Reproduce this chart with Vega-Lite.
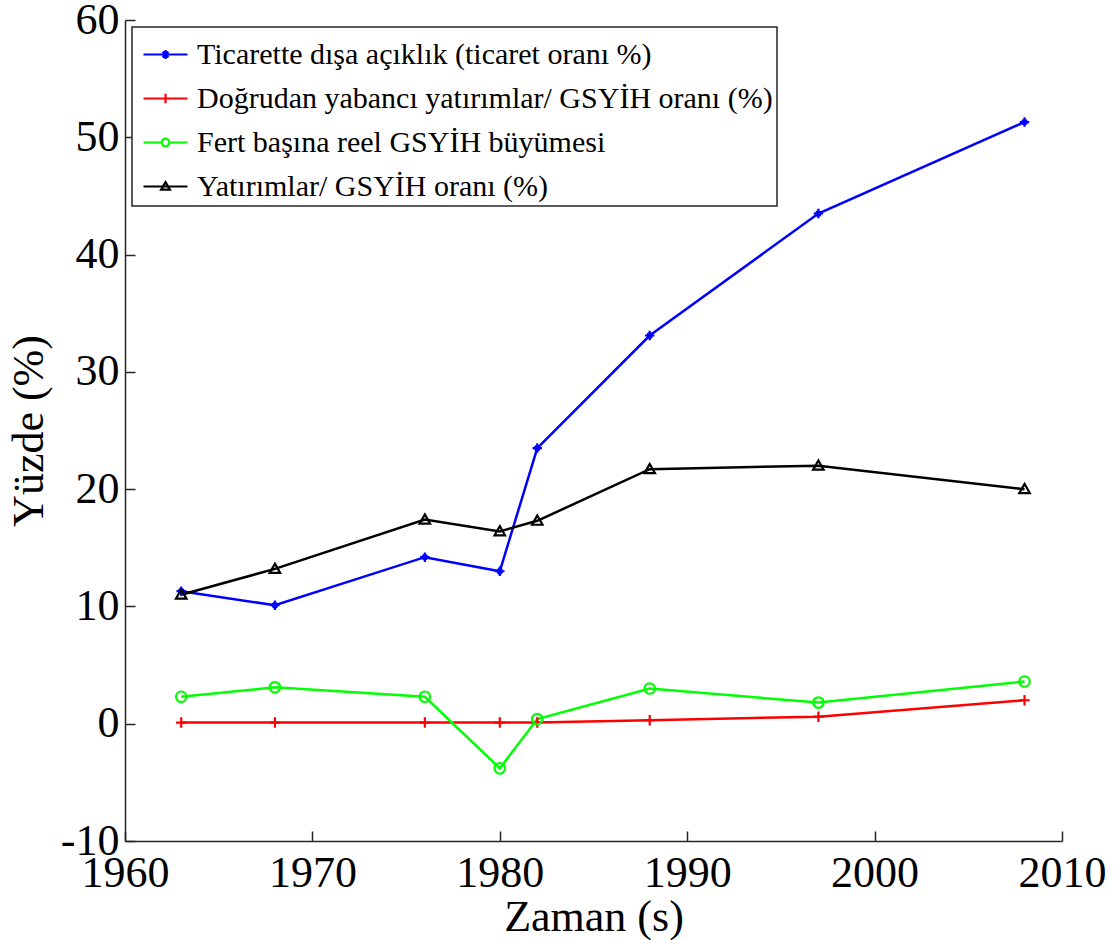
{
  "$schema": "https://vega.github.io/schema/vega-lite/v6.json",
  "autosize": {"type": "none"},
  "padding": {"left": 125, "top": 20, "right": 56, "bottom": 99},
  "width": 937,
  "height": 821,
  "background": "white",
  "config": {
    "view": {"stroke": null},
    "font": "Liberation Serif",
    "axis": {
      "labelFont": "Liberation Serif",
      "titleFont": "Liberation Serif",
      "labelFontSize": 44,
      "titleFontSize": 44,
      "titleFontWeight": "normal",
      "labelColor": "black",
      "titleColor": "black",
      "domainColor": "#262626",
      "domainWidth": 1.5,
      "tickColor": "#262626",
      "tickWidth": 1.5,
      "tickSize": -10,
      "grid": false,
      "labelOverlap": false,
      "labelFlush": false,
      "labelBound": false
    },
    "legend": {
      "strokeColor": "#262626",
      "strokeWidth": 1.5,
      "fillColor": "white",
      "labelFont": "Liberation Serif",
      "labelFontSize": 30,
      "labelColor": "black",
      "labelLimit": 0,
      "labelOffset": 8,
      "symbolSize": 1936,
      "symbolStrokeWidth": 2.2,
      "symbolOpacity": 1,
      "rowPadding": 5,
      "padding": 4,
      "symbolOffset": 6,
      "orient": "top-left",
      "offset": 7
    }
  },
  "data": {
    "values": [
      {"year": 1963, "series": "Ticarette dışa açıklık (ticaret oranı %)", "value": 11.3},
      {"year": 1968, "series": "Ticarette dışa açıklık (ticaret oranı %)", "value": 10.1},
      {"year": 1976, "series": "Ticarette dışa açıklık (ticaret oranı %)", "value": 14.2},
      {"year": 1980, "series": "Ticarette dışa açıklık (ticaret oranı %)", "value": 13.0},
      {"year": 1982, "series": "Ticarette dışa açıklık (ticaret oranı %)", "value": 23.5},
      {"year": 1988, "series": "Ticarette dışa açıklık (ticaret oranı %)", "value": 33.1},
      {"year": 1997, "series": "Ticarette dışa açıklık (ticaret oranı %)", "value": 43.5},
      {"year": 2008, "series": "Ticarette dışa açıklık (ticaret oranı %)", "value": 51.3},
      {"year": 1963, "series": "Doğrudan yabancı yatırımlar/ GSYİH oranı (%)", "value": 0.1},
      {"year": 1968, "series": "Doğrudan yabancı yatırımlar/ GSYİH oranı (%)", "value": 0.1},
      {"year": 1976, "series": "Doğrudan yabancı yatırımlar/ GSYİH oranı (%)", "value": 0.1},
      {"year": 1980, "series": "Doğrudan yabancı yatırımlar/ GSYİH oranı (%)", "value": 0.1},
      {"year": 1982, "series": "Doğrudan yabancı yatırımlar/ GSYİH oranı (%)", "value": 0.1},
      {"year": 1988, "series": "Doğrudan yabancı yatırımlar/ GSYİH oranı (%)", "value": 0.3},
      {"year": 1997, "series": "Doğrudan yabancı yatırımlar/ GSYİH oranı (%)", "value": 0.6},
      {"year": 2008, "series": "Doğrudan yabancı yatırımlar/ GSYİH oranı (%)", "value": 2.0},
      {"year": 1963, "series": "Fert başına reel GSYİH büyümesi", "value": 2.3},
      {"year": 1968, "series": "Fert başına reel GSYİH büyümesi", "value": 3.1},
      {"year": 1976, "series": "Fert başına reel GSYİH büyümesi", "value": 2.3},
      {"year": 1980, "series": "Fert başına reel GSYİH büyümesi", "value": -3.8},
      {"year": 1982, "series": "Fert başına reel GSYİH büyümesi", "value": 0.4},
      {"year": 1988, "series": "Fert başına reel GSYİH büyümesi", "value": 3.0},
      {"year": 1997, "series": "Fert başına reel GSYİH büyümesi", "value": 1.8},
      {"year": 2008, "series": "Fert başına reel GSYİH büyümesi", "value": 3.6},
      {"year": 1963, "series": "Yatırımlar/ GSYİH oranı (%)", "value": 11.0},
      {"year": 1968, "series": "Yatırımlar/ GSYİH oranı (%)", "value": 13.2},
      {"year": 1976, "series": "Yatırımlar/ GSYİH oranı (%)", "value": 17.4},
      {"year": 1980, "series": "Yatırımlar/ GSYİH oranı (%)", "value": 16.4},
      {"year": 1982, "series": "Yatırımlar/ GSYİH oranı (%)", "value": 17.3},
      {"year": 1988, "series": "Yatırımlar/ GSYİH oranı (%)", "value": 21.7},
      {"year": 1997, "series": "Yatırımlar/ GSYİH oranı (%)", "value": 22.0},
      {"year": 2008, "series": "Yatırımlar/ GSYİH oranı (%)", "value": 20.0}
    ]
  },
  "encoding": {
    "x": {
      "field": "year", "type": "quantitative",
      "scale": {"domain": [1960, 2010], "nice": false, "zero": false},
      "axis": {"title": "Zaman (s)", "values": [1960, 1970, 1980, 1990, 2000, 2010], "labelExpr": "'' + datum.value", "labelPadding": 20, "titlePadding": 0}
    },
    "y": {
      "field": "value", "type": "quantitative",
      "scale": {"domain": [-10, 60], "nice": false, "zero": false},
      "axis": {"title": "Yüzde (%)", "values": [-10, 0, 10, 20, 30, 40, 50, 60], "labelExpr": "'' + datum.value", "labelPadding": 16, "titlePadding": 9}
    }
  },
  "layer": [
    {
      "mark": {"type": "line", "strokeWidth": 2.5},
      "encoding": {
        "color": {
          "field": "series", "type": "nominal",
          "scale": {
            "domain": ["Ticarette dışa açıklık (ticaret oranı %)", "Doğrudan yabancı yatırımlar/ GSYİH oranı (%)", "Fert başına reel GSYİH büyümesi", "Yatırımlar/ GSYİH oranı (%)"],
            "range": ["#0000ff", "#ff0000", "#00ff00", "#000000"]
          },
          "legend": null
        }
      }
    },
    {
      "mark": {"type": "point", "filled": false, "strokeWidth": 2.2, "size": 110, "opacity": 1},
      "encoding": {
        "color": {
          "field": "series", "type": "nominal",
          "scale": {
            "domain": ["Ticarette dışa açıklık (ticaret oranı %)", "Doğrudan yabancı yatırımlar/ GSYİH oranı (%)", "Fert başına reel GSYİH büyümesi", "Yatırımlar/ GSYİH oranı (%)"],
            "range": ["#0000ff", "#ff0000", "#00ff00", "#000000"]
          },
          "legend": null
        },
        "shape": {
          "field": "series", "type": "nominal",
          "scale": {
            "domain": ["Ticarette dışa açıklık (ticaret oranı %)", "Doğrudan yabancı yatırımlar/ GSYİH oranı (%)", "Fert başına reel GSYİH büyümesi", "Yatırımlar/ GSYİH oranı (%)"],
            "range": ["M0,-0.9V0.9M-0.9,0H0.9M-0.45,-0.45L0.45,0.45M-0.45,0.45L0.45,-0.45", "M0,-1V1M-1,0H1", "circle", "M0,-1L1,0.75L-1,0.75Z"]
          },
          "legend": null
        }
      }
    },
    {
      "mark": {"type": "point", "filled": false, "strokeWidth": 2, "opacity": 0},
      "encoding": {
        "color": {
          "field": "series", "type": "nominal",
          "scale": {
            "domain": ["Ticarette dışa açıklık (ticaret oranı %)", "Doğrudan yabancı yatırımlar/ GSYİH oranı (%)", "Fert başına reel GSYİH büyümesi", "Yatırımlar/ GSYİH oranı (%)"],
            "range": ["#0000ff", "#ff0000", "#00ff00", "#000000"]
          },
          "legend": {
            "title": null, "orient": "top-left", "offset": 7, "padding": 4, "symbolOffset": 6,
            "labelFont": "Liberation Serif", "labelFontSize": 30, "labelColor": "black", "labelLimit": 0, "labelOffset": 8,
            "symbolSize": 1936, "symbolStrokeWidth": 2.2, "symbolOpacity": 1, "rowPadding": 5
          }
        },
        "shape": {
          "field": "series", "type": "nominal",
          "scale": {
            "domain": ["Ticarette dışa açıklık (ticaret oranı %)", "Doğrudan yabancı yatırımlar/ GSYİH oranı (%)", "Fert başına reel GSYİH büyümesi", "Yatırımlar/ GSYİH oranı (%)"],
            "range": [
              "M-1,0H1M0,-0.2V0.2M-0.13,-0.13L0.13,0.13M-0.13,0.13L0.13,-0.13",
              "M-1,0H1M0,-0.22V0.22",
              "M-1,0H-0.18M0.18,0H1M-0.18,0L-0.127,-0.127L0,-0.18L0.127,-0.127L0.18,0L0.127,0.127L0,0.18L-0.127,0.127Z",
              "M-1,0H1M0,-0.2L0.2,0.14L-0.2,0.14Z"
            ]
          },
          "legend": {
            "title": null, "orient": "top-left", "offset": 7, "padding": 4, "symbolOffset": 6,
            "labelFont": "Liberation Serif", "labelFontSize": 30, "labelColor": "black", "labelLimit": 0, "labelOffset": 8,
            "symbolSize": 1936, "symbolStrokeWidth": 2.2, "symbolOpacity": 1, "rowPadding": 5
          }
        }
      }
    }
  ],
  "resolve": {"scale": {"color": "independent", "shape": "independent"}}
}
